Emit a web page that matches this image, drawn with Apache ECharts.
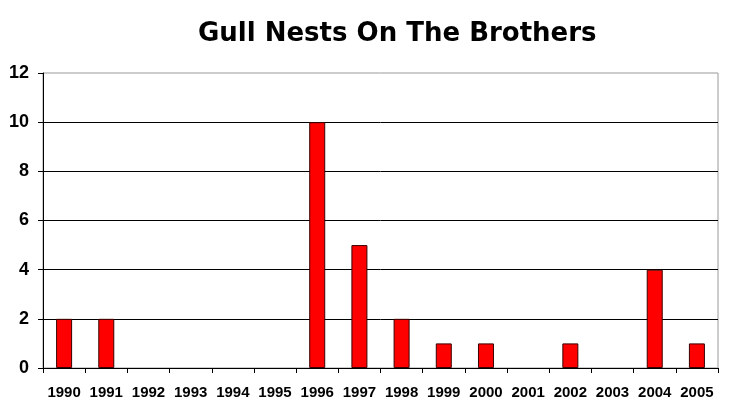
<!DOCTYPE html>
<html><head><meta charset="utf-8">
<script src="https://cdn.jsdelivr.net/npm/echarts@6/dist/echarts.min.js"></script>
<style>html,body{margin:0;padding:0;background:#fff}#c{width:732px;height:406px}</style>
</head><body><div id="c"></div>
<script>
const title = 'Gull Nests On The Brothers';
const years = ['1990','1991','1992','1993','1994','1995','1996','1997','1998','1999','2000','2001','2002','2003','2004','2005'];
const nests = [2,2,0,0,0,0,10,5,2,1,1,0,1,0,4,1];
const yTicks = {min:0, max:12, interval:2};

const chart = echarts.init(document.getElementById('c'));
chart.setOption({
  animation:false,
  backgroundColor:'#fff',
  title:{text:title,left:193,top:16,textStyle:{fontFamily:'DejaVu Sans',fontWeight:'bold',fontSize:26,color:'#000'}},
  grid:{left:43,right:14,top:73,bottom:38,show:true,borderColor:'#999',borderWidth:1,backgroundColor:'transparent'},
  xAxis:{type:'category',data:years,boundaryGap:true,
    axisLine:{lineStyle:{color:'#000',width:1}},
    axisTick:{show:true,alignWithLabel:false,length:5,lineStyle:{color:'#000'}},
    axisLabel:{margin:17,color:'#000',fontFamily:'Liberation Sans',fontWeight:'bold',fontSize:15,interval:0},
    splitLine:{show:false}},
  yAxis:{type:'value',min:yTicks.min,max:yTicks.max,interval:yTicks.interval,
    axisLine:{show:true,lineStyle:{color:'#000',width:1}},
    axisTick:{show:true,length:5,lineStyle:{color:'#000'}},
    axisLabel:{margin:14,color:'#000',fontFamily:'Liberation Sans',fontWeight:'bold',fontSize:18},
    splitLine:{show:true,showMaxLine:false,lineStyle:{color:'#000',width:1}}},
  series:[{type:'bar',barWidth:16,
    data:nests.map(v => v === 0 ? {value:v, itemStyle:{borderWidth:0}} : v),
    itemStyle:{color:'#ff0000',borderColor:'#3a0000',borderWidth:1}}]
});
</script></body></html>
